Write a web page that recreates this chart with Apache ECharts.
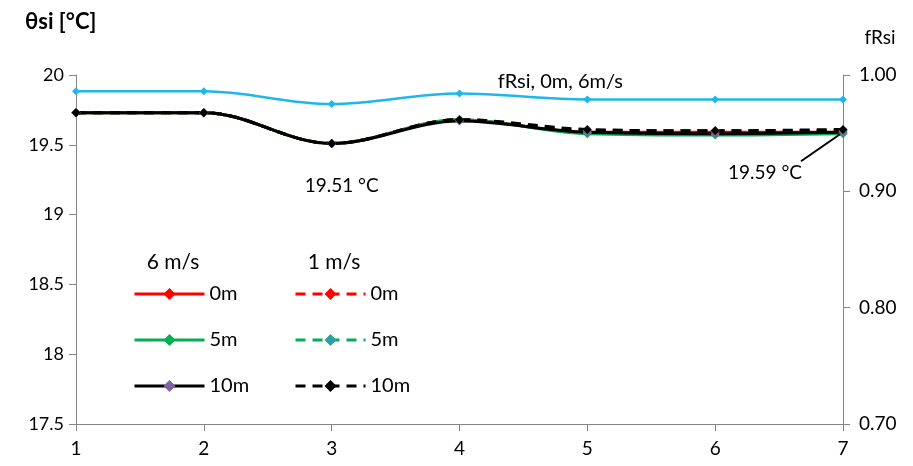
<!DOCTYPE html>
<html>
<head>
<meta charset="utf-8">
<script src="https://cdn.jsdelivr.net/npm/echarts@6/dist/echarts.min.js"></script>
<style>html,body{margin:0;padding:0;background:#fff;}#c{width:913px;height:466px;}</style>
</head>
<body>
<div id="c"></div>
<script>
const categories = ['1', '2', '3', '4', '5', '6', '7'];
// θsi [°C], wind 6 m/s
const v6_0m  = [19.73, 19.73, 19.51, 19.68, 19.59, 19.59, 19.59];
const v6_5m  = [19.73, 19.73, 19.51, 19.68, 19.58, 19.57, 19.58];
const v6_10m = [19.73, 19.73, 19.51, 19.67, 19.59, 19.58, 19.59];
// θsi [°C], wind 1 m/s
const v1_0m  = [19.73, 19.73, 19.51, 19.68, 19.60, 19.60, 19.60];
const v1_5m  = [19.73, 19.73, 19.51, 19.68, 19.60, 19.60, 19.60];
const v1_10m = [19.73, 19.73, 19.51, 19.68, 19.61, 19.60, 19.61];
// fRsi, 0m, 6 m/s (right axis)
const fRsi = [0.986, 0.986, 0.975, 0.984, 0.979, 0.979, 0.979];

const FONT = 'Lato, "Open Sans", sans-serif';
const axisGray = '#868686';
const chart = echarts.init(document.getElementById('c'));

function ser(name, data, color, markColor, dashed) {
  return {
    name: name, type: 'line', data: data, yAxisIndex: 0,
    smooth: 0.35, symbol: 'diamond', symbolSize: 9,
    lineStyle: { color: color, width: 3, type: dashed ? [10, 7] : 'solid' },
    itemStyle: { color: markColor, borderWidth: 0 },
    emphasis: { disabled: true }, z: 3
  };
}

const names6 = ['6 m/s 0m', '6 m/s 5m', '6 m/s 10m'];
const names1 = ['1 m/s 0m', '1 m/s 5m', '1 m/s 10m'];
const legendCommon = {
  orient: 'vertical', top: 278, itemWidth: 70, itemHeight: 15, itemGap: 24,
  lineStyle: { width: 3 },
  textStyle: { fontSize: 20, lineHeight: 22, fontFamily: FONT, color: '#000', padding: [0, 0, 0, 0] },
  formatter: n => n.split(' ').pop(), selectedMode: false
};

chart.setOption({
  animation: false,
  grid: { left: 76, right: 70, top: 75, bottom: 42 },
  xAxis: {
    type: 'category', data: categories, boundaryGap: false,
    axisLine: { lineStyle: { color: axisGray, width: 1 } },
    axisTick: { show: true, length: 7, lineStyle: { color: axisGray } },
    axisLabel: { color: '#000', fontSize: 19, fontFamily: FONT, margin: 15 },
    splitLine: { show: false }
  },
  yAxis: [
    {
      type: 'value', position: 'left', min: 17.5, max: 20, interval: 0.5,
      axisLine: { show: true, lineStyle: { color: axisGray } },
      axisTick: { show: true, length: 7, lineStyle: { color: axisGray } },
      axisLabel: { color: '#000', fontSize: 18, fontFamily: FONT, margin: 12 },
      splitLine: { show: false }
    },
    {
      type: 'value', position: 'right', min: 0.7, max: 1.0, interval: 0.1,
      axisLine: { show: true, lineStyle: { color: axisGray } },
      axisTick: { show: true, length: 7, lineStyle: { color: axisGray } },
      axisLabel: { color: '#000', fontSize: 19, fontFamily: FONT, margin: 16,
        formatter: v => v.toFixed(2) },
      splitLine: { show: false }
    }
  ],
  legend: [
    Object.assign({}, legendCommon, { left: 128, data: names6 }),
    Object.assign({}, legendCommon, { left: 289, data: names1 })
  ],
  series: [
    {
      name: 'fRsi', type: 'line', data: fRsi, yAxisIndex: 1,
      smooth: 0.35, symbol: 'diamond', symbolSize: 8,
      lineStyle: { color: '#1fb6ee', width: 2.5 },
      itemStyle: { color: '#1fb6ee' }, emphasis: { disabled: true }, z: 2
    },
    ser(names6[0], v6_0m, '#ff0000', '#ff0000', false),
    ser(names1[0], v1_0m, '#ff0000', '#ff0000', true),
    ser(names6[1], v6_5m, '#00b050', '#00b050', false),
    ser(names1[1], v1_5m, '#00b050', '#2aa0a0', true),
    ser(names6[2], v6_10m, '#000000', '#7f63a2', false),
    ser(names1[2], v1_10m, '#000000', '#000000', true)
  ]
});

// annotations positioned from the data through the axes
const p3 = chart.convertToPixel({ xAxisIndex: 0, yAxisIndex: 0 }, ['3', v6_10m[2]]);
const p7 = chart.convertToPixel({ xAxisIndex: 0, yAxisIndex: 0 }, ['7', v6_10m[6]]);
const pf = chart.convertToPixel({ xAxisIndex: 0, yAxisIndex: 1 }, ['5', fRsi[4]]);
const txt = (x, y, s, extra) => ({
  type: 'text', x: x, y: y,
  style: Object.assign({ text: s, fill: '#000', font: '19px ' + FONT, textAlign: 'center', textVerticalAlign: 'middle' }, extra || {})
});
chart.setOption({
  graphic: [
    txt(25, 22, 'θsi [°C]', { font: 'bold 22px ' + FONT, textAlign: 'left' }),
    txt(880, 38, 'fRsi', {}),
    txt(173, 262, '6 m/s', { font: '21px ' + FONT }),
    txt(334, 262, '1 m/s', { font: '21px ' + FONT }),
    txt(p3[0] + 10, p3[1] + 42, '19.51 °C'),
    txt(p7[0] - 78, p7[1] + 41, '19.59 °C'),
    txt(pf[0] - 27, pf[1] - 18, 'fRsi, 0m, 6m/s', { font: '20px ' + FONT }),
    { type: 'line', shape: { x1: p7[0] - 42, y1: p7[1] + 29, x2: p7[0] - 3, y2: p7[1] + 2 },
      style: { stroke: '#000', lineWidth: 2 }, z: 10 }
  ]
});
</script>
</body>
</html>
